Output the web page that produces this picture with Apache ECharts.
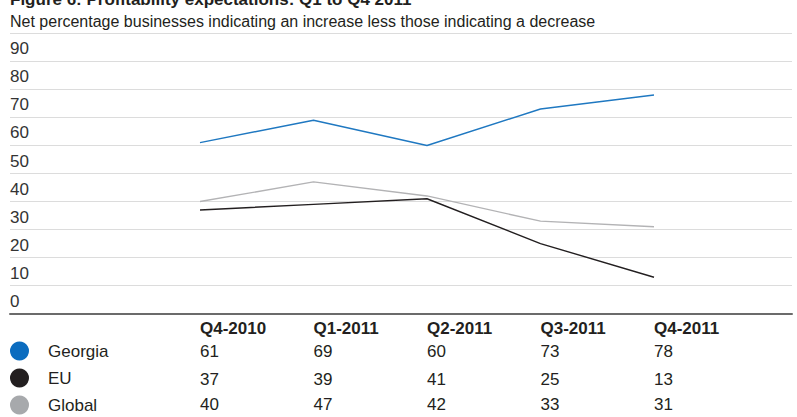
<!DOCTYPE html>
<html>
<head>
<meta charset="utf-8">
<script src="https://cdn.jsdelivr.net/npm/echarts@6/dist/echarts.min.js"></script>
<style>
html,body{margin:0;padding:0;background:#fff;}
#chart{width:797px;height:417px;}
</style>
</head>
<body>
<div id="chart"></div>
<script>
var titleText = 'Figure 6: Profitability expectations: Q1 to Q4 2011';
var subtitleText = 'Net percentage businesses indicating an increase less those indicating a decrease';
var categories = ['Q4-2010', 'Q1-2011', 'Q2-2011', 'Q3-2011', 'Q4-2011'];
var seriesNames = ['Georgia', 'EU', 'Global'];
var georgia = [61, 69, 60, 73, 78];
var eu = [37, 39, 41, 25, 13];
var global = [40, 47, 42, 33, 31];
var yTicks = [0, 10, 20, 30, 40, 50, 60, 70, 80, 90];

var FONT = 'Liberation Sans, Arial, sans-serif';
var lineColors = ['#1f78c1', '#231f20', '#b3b3b5'];
var dotColors = ['#0b6cbf', '#231f20', '#a7a9ac'];
var rows = [georgia, eu, global];

var chart = echarts.init(document.getElementById('chart'), null, {renderer: 'svg'});

function rowAxis(values, offset) {
  return {
    type: 'category', gridIndex: 1, position: 'bottom', offset: offset,
    data: categories, boundaryGap: false,
    axisLine: {show: false}, axisTick: {show: false}, splitLine: {show: false},
    axisLabel: {
      interval: 0, margin: 0, align: 'left', verticalAlign: 'middle',
      fontFamily: FONT, fontSize: 17, color: '#231f20',
      formatter: function (v, i) { return String(values[i]); }
    }
  };
}

var option = {
  backgroundColor: '#fff',
  animation: false,
  title: [
    {text: titleText, left: 10, top: -9.5, padding: 0,
     textStyle: {fontFamily: FONT, fontSize: 17, fontWeight: 'bold', color: '#231f20', lineHeight: 17}},
    {text: subtitleText, left: 10, top: 13, padding: 0,
     textStyle: {fontFamily: FONT, fontSize: 16, fontWeight: 'normal', color: '#231f20', lineHeight: 16}}
  ],
  legend: {
    orient: 'vertical', left: 10, top: 341.5, padding: 0,
    itemWidth: 19, itemHeight: 19, itemGap: 8, icon: 'circle',
    textStyle: {fontFamily: FONT, fontSize: 17, color: '#231f20', padding: [0, 0, 0, 14]},
    data: seriesNames.map(function (n, i) { return {name: n, itemStyle: {color: dotColors[i]}}; })
  },
  grid: [
    {left: 10, right: 5, top: 33.3, bottom: 103.3},
    {left: 200, right: 143, top: 33.3, bottom: 103.3}
  ],
  xAxis: [
    {type: 'value', gridIndex: 0, min: 0, max: 1,
     axisLine: {show: true, lineStyle: {color: '#6b6b6b', width: 2}},
     axisTick: {show: false}, axisLabel: {show: false}, splitLine: {show: false}},
    {
      type: 'category', gridIndex: 1, position: 'bottom', offset: 14.3,
      data: categories, boundaryGap: false,
      axisLine: {show: false}, axisTick: {show: false}, splitLine: {show: false},
      axisLabel: {interval: 0, margin: 0, align: 'left', verticalAlign: 'middle',
        fontFamily: FONT, fontSize: 17, fontWeight: 'bold', color: '#231f20'}
    },
    rowAxis(georgia, 37.3),
    rowAxis(eu, 65.3),
    rowAxis(global, 90.3)
  ],
  yAxis: [
    {type: 'value', gridIndex: 0, min: 0, max: 100, interval: 10,
     axisLine: {show: false}, axisTick: {show: false},
     splitLine: {show: true, lineStyle: {color: '#dcdcdc', width: 1.2}},
     axisLabel: {inside: true, margin: 0, verticalAlign: 'bottom', lineHeight: 25,
       fontFamily: FONT, fontSize: 17, color: '#333',
       formatter: function (v) { return yTicks.indexOf(v) >= 0 ? String(v) : ''; }}},
    {type: 'value', gridIndex: 1, min: 0, max: 100, show: false}
  ],
  series: rows.map(function (vals, i) {
    return {
      name: seriesNames[i], type: 'line', xAxisIndex: 1, yAxisIndex: 1,
      data: vals, symbol: 'none', color: dotColors[i],
      lineStyle: {color: lineColors[i], width: 1.4}
    };
  })
};
chart.setOption(option);
</script>
</body>
</html>
